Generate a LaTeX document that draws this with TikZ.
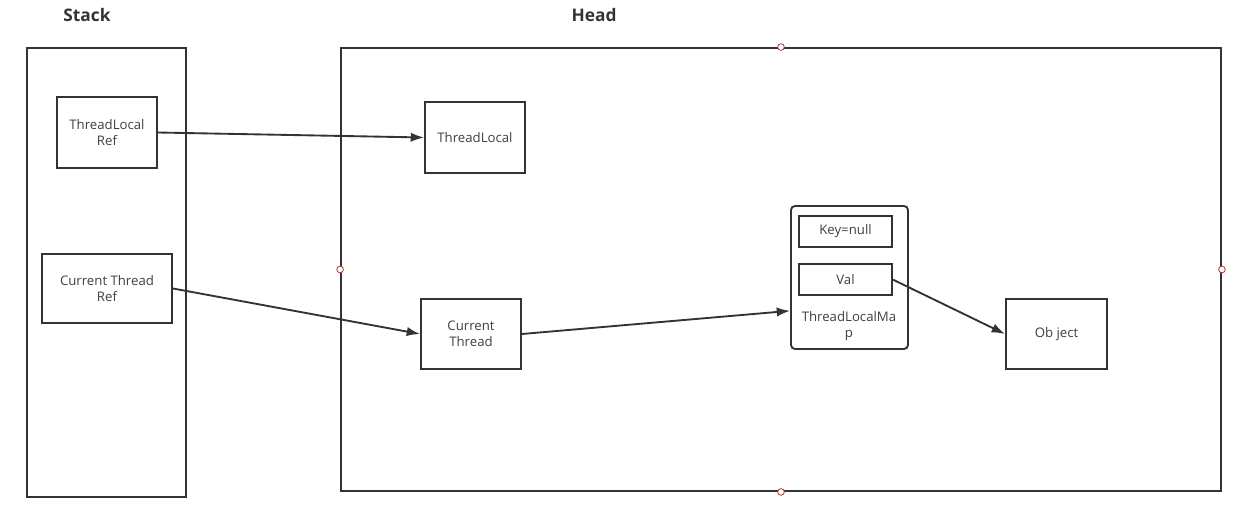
\documentclass[tikz,border=0pt]{standalone}
\usepackage{fontspec}
\setmainfont{Open Sans}
\usepackage{tikz}
\usetikzlibrary{arrows.meta,positioning}

\definecolor{inkgray}{HTML}{333333}
\definecolor{textgray}{HTML}{404040}
\definecolor{handlered}{HTML}{A83838}

\begin{document}
\begin{tikzpicture}[
  x=0.75pt, y=-0.75pt,
  every node/.style={inner sep=0pt, text=textgray, font=\fontsize{9.9}{12}\selectfont},
  area/.style={draw=inkgray, line width=1.4pt},
  block/.style={draw=inkgray, line width=1.4pt, align=center, minimum width=75pt, minimum height=53pt},
  field/.style={draw=inkgray, line width=1.4pt, align=center, minimum width=70pt, minimum height=23.5pt},
  title/.style={font=\bfseries\fontsize{13}{15}\selectfont, text=inkgray},
  handle/.style={circle, draw=handlered, fill=white, line width=0.6pt, minimum size=5pt},
  line/.style={draw=inkgray, line width=1.4pt, -{Latex[length=10pt,width=7pt]}}
]
\useasboundingbox (0,0) rectangle (1249,511);

% memory areas
\node[title] (stacktitle) at (87,15) {Stack};
\node[title] (headtitle) at (594,15) {Head};
\node[area, minimum width=119.25pt, minimum height=336.75pt] (stack) at (106.5,272.5) {};
\node[area, minimum width=660pt, minimum height=332.25pt] (head) at (781,269.5) {};
\foreach \side in {north,south,west,east}
  \node[handle] (h-\side) at (head.\side) {};

% references on the stack
\node[block] (tlref) at (107,132.5) {ThreadLocal\\Ref};
\node[block, minimum width=97.5pt, minimum height=52pt] (ctref) at (107,288.5) {Current Thread\\Ref};

% objects on the heap
\node[block] (tl) at (475,137.5) {ThreadLocal};
\node[block, minimum height=52.5pt] (ct) at (471,334) {Current\\Thread};
\node[draw=inkgray, line width=1.4pt, rounded corners=3pt, minimum width=87.75pt, minimum height=107.25pt] (map) at (849.5,277.5) {};
\node[field] (key) at (845.5,231.5) {Key=null};
\node[field, below=11.25pt of key] (val) {Val};
\node[align=center] (maplabel) at (849,326) {ThreadLocalMa\\p};
\node[block, minimum width=75.75pt, minimum height=52.5pt] (obj) at (1056.5,334) {Ob ject};

% references
\draw[line] (tlref.east) -- (tl.west);
\draw[line] (ctref.east) -- (ct.west);
\draw[line] (ct.east) -- ([yshift=-25pt]map.west);
\draw[line] (val.east) -- (obj.west);
\end{tikzpicture}
\end{document}
